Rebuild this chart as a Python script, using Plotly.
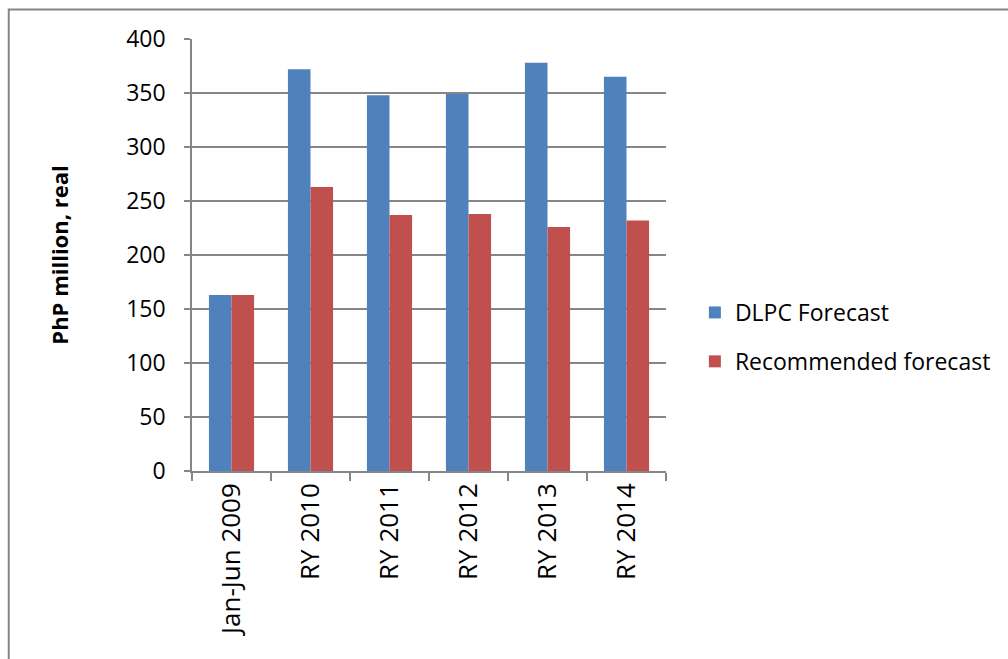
import plotly.graph_objects as go

categories = ["Jan-Jun 2009", "RY 2010", "RY 2011", "RY 2012", "RY 2013", "RY 2014"]
dlpc_forecast = [163, 372, 348, 349, 378, 365]
recommended_forecast = [163, 263, 237, 238, 226, 232]

W, H = 1008, 659
L, R, T, B = 192, 668, 39, 471  # plot area in pixels
GRID = "#868686"
FONT = "Open Sans"
FS = 23

fig = go.Figure()
fig.add_bar(name="DLPC Forecast", x=categories, y=dlpc_forecast,
            marker=dict(color="#4F81BD", line=dict(width=0)), legendgroup="a")
fig.add_bar(name="Recommended forecast", x=categories, y=recommended_forecast,
            marker=dict(color="#C0504D", line=dict(width=0)), legendgroup="b")

def px_x(p):
    return (p - L) / (R - L)

def px_y(p):
    return (B - p) / (B - T)

fig.update_layout(
    width=W, height=H,
    margin=dict(l=L, r=W - R, t=T, b=H - B, pad=0),
    paper_bgcolor="white", plot_bgcolor="white",
    barmode="group", bargap=1.5 / 3.5, bargroupgap=0,
    font=dict(family=FONT, size=FS, color="black"),
    showlegend=True,
    legend=dict(x=px_x(697), y=px_y(291), xanchor="left", yanchor="top",
                font=dict(size=FS), tracegroupgap=16, traceorder="grouped",
                bgcolor="rgba(0,0,0,0)"),
    shapes=[dict(type="rect", xref="paper", yref="paper",
                 x0=px_x(8), x1=px_x(1060), y0=px_y(700), y1=px_y(9.5),
                 line=dict(color=GRID, width=2), layer="below")],
)

fig.update_xaxes(
    type="category", showline=True, linecolor=GRID, linewidth=1.5,
    ticks="outside", tickson="boundaries", ticklen=8, tickcolor=GRID, tickwidth=1.5,
    tickangle=-90, showgrid=False, tickfont=dict(size=26),
)
fig.update_yaxes(
    range=[0, 400], dtick=50, showline=True, linecolor=GRID, linewidth=1.5,
    ticks="outside", ticklen=6, tickcolor=GRID, tickwidth=1.5,
    showgrid=True, gridcolor=GRID, gridwidth=1.5, zeroline=False,
    tickfont=dict(size=FS), ticklabelstandoff=14,
    title=dict(text="<b>PhP million, real</b>", font=dict(size=FS - 1), standoff=51),
)

fig.write_html("out.html")
